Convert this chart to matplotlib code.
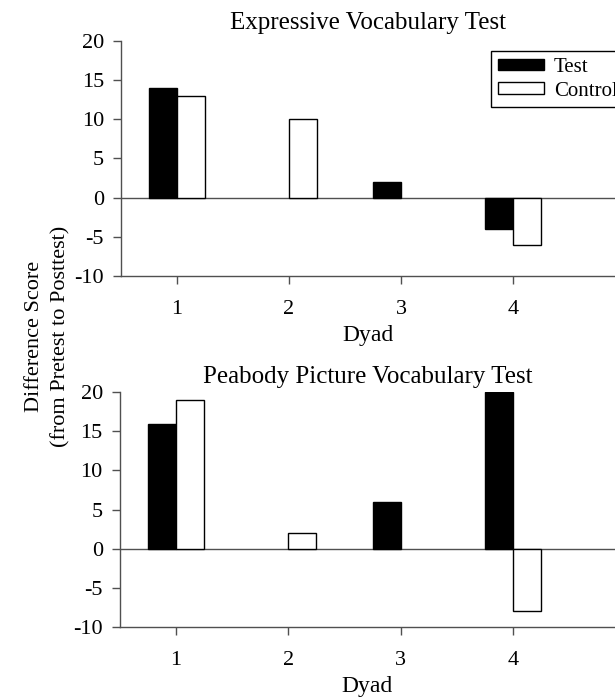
import numpy as np
import matplotlib
matplotlib.use('Agg')
from matplotlib import pyplot as plt

# data
dyads = [1, 2, 3, 4]
evt_test = [14, 0, 2, -4]
evt_control = [13, 10, 0, -6]
ppvt_test = [16, 0, 6, 20]
ppvt_control = [19, 2, 0, -8]
titles = ['Expressive Vocabulary Test', 'Peabody Picture Vocabulary Test']
yticks = [-10, -5, 0, 5, 10, 15, 20]

plt.rcParams['font.family'] = ['Liberation Serif', 'DejaVu Serif']
plt.rcParams['font.size'] = 16
plt.rcParams['axes.unicode_minus'] = False

fig = plt.figure(figsize=(6.15, 6.98), dpi=100)
ax1 = fig.add_axes([0.1967, 0.6046, 0.8033, 0.3367])
ax2 = fig.add_axes([0.1950, 0.1021, 0.8050, 0.3359])

w = 0.25
x = np.array(dyads)
gray = '#505050'

for ax, test, ctrl, title, pad in [(ax1, evt_test, evt_control, titles[0], 8.4),
                                   (ax2, ppvt_test, ppvt_control, titles[1], 6.5)]:
    b1 = ax.bar(x - w / 2, test, w, color='black', edgecolor='black', lw=1, label='Test', zorder=3)
    b2 = ax.bar(x + w / 2, ctrl, w, color='white', edgecolor='black', lw=1, label='Control', zorder=3)
    # zero-height bars are not drawn in the original
    for p in list(b1) + list(b2):
        if p.get_height() == 0:
            p.set_visible(False)
    ax.axhline(0, color=gray, lw=1, zorder=2)
    ax.set_xlim(0.5, 4.91)
    ax.set_ylim(-10, 20)
    ax.set_xticks(dyads)
    ax.set_yticks(yticks)
    for s in ['top', 'right']:
        ax.spines[s].set_visible(False)
    for s in ['left', 'bottom']:
        ax.spines[s].set_color(gray)
        ax.spines[s].set_linewidth(1)
    ax.tick_params(axis='x', length=5.8, width=1, color=gray, pad=11.5)
    ax.tick_params(axis='y', length=5.8, width=1, color=gray, pad=6.5)
    ax.set_xlabel('Dyad', labelpad=4.5, fontsize=17)
    ax.set_title(title, pad=pad, fontsize=18)

leg = ax1.legend(loc='upper left', bbox_to_anchor=(0.749, 0.957), borderaxespad=0,
                 frameon=True, fancybox=False, edgecolor='black', framealpha=1,
                 handlelength=2.2, handleheight=0.48, handletextpad=0.5,
                 labelspacing=0.22, borderpad=0.33, fontsize=15)
leg.get_frame().set_linewidth(1)

fig.text(0.077, 0.518, 'Difference Score\n(from Pretest to Posttest)', rotation=90,
         ha='center', va='center', linespacing=1.5)

fig.savefig('out.png', dpi=100)
